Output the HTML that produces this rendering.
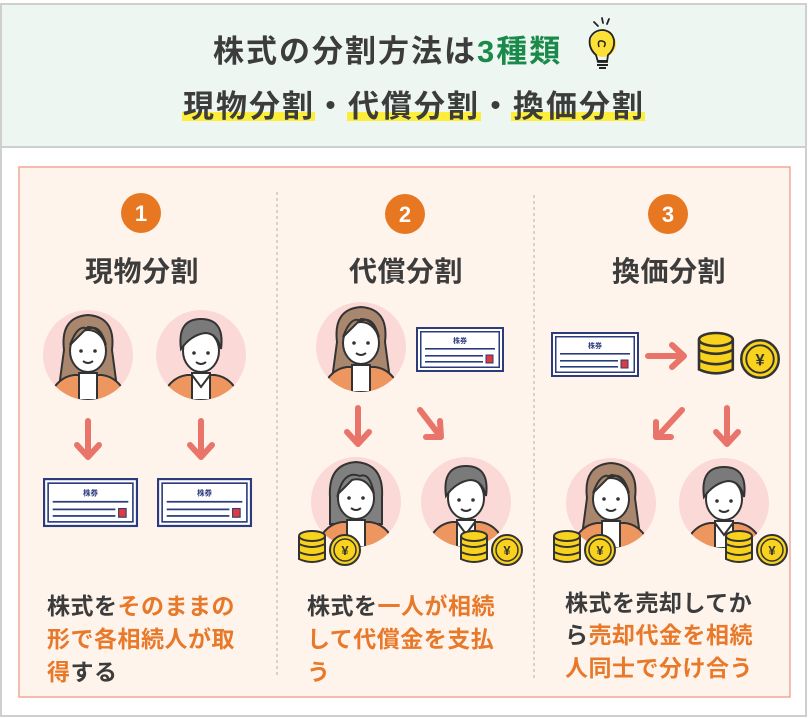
<!DOCTYPE html>
<html><head><meta charset="utf-8"><style>
body{margin:0;width:808px;height:718px;background:#fff;overflow:hidden}
svg{display:block}
text{font-family:"Liberation Sans","Noto Sans CJK JP",sans-serif;font-weight:bold}
</style></head><body>
<svg width="808" height="718" viewBox="0 0 808 718">
<defs>
<clipPath id="cc"><circle cx="0" cy="0" r="45"/></clipPath>
<g id="body">
  <path d="M-38 40 Q-30 22 -14 20 L14 20 Q30 22 38 40 L38 50 L-38 50Z" fill="#ee9660" stroke="#333" stroke-width="2"/>
  <path d="M-9 18 L-9 45 L9 45 L9 18Z" fill="#fff" stroke="#333" stroke-width="2"/>
</g>
<g id="woman">
  <circle r="45" fill="#fbd9d6"/>
  <g clip-path="url(#cc)">
    <path d="M-24 -5 Q-28 -38 0 -40 Q28 -38 24 -5 L28 25 L-28 25Z" fill="#a8876e" stroke="#333" stroke-width="2"/>
    <use href="#body"/>
    <ellipse cx="0" cy="-4" rx="18" ry="21" fill="#fff" stroke="#333" stroke-width="2"/>
    <path d="M-18 -10 Q-10 -32 0 -26 Q12 -32 18 -10 Q12 -28 0 -28Z" fill="#a8876e" stroke="#333" stroke-width="2"/>
    <circle cx="-7" cy="-4" r="1.8" fill="#333"/><circle cx="7" cy="-4" r="1.8" fill="#333"/>
    <path d="M-5 6 Q0 10 5 6" fill="none" stroke="#333" stroke-width="2"/>
  </g>
</g>
<g id="gwoman">
  <circle r="45" fill="#fbd9d6"/>
  <g clip-path="url(#cc)">
    <path d="M-26 -5 Q-28 -38 0 -40 Q28 -38 26 -5 L26 22 L-26 22Z" fill="#808080" stroke="#333" stroke-width="2"/>
    <use href="#body"/>
    <ellipse cx="0" cy="-4" rx="18" ry="21" fill="#fff" stroke="#333" stroke-width="2"/>
    <path d="M-18 -8 Q-12 -32 4 -26 Q14 -30 18 -8 Q10 -26 -4 -22Z" fill="#808080" stroke="#333" stroke-width="2"/>
    <circle cx="-7" cy="-4" r="1.8" fill="#333"/><circle cx="7" cy="-4" r="1.8" fill="#333"/>
    <path d="M-5 6 Q0 10 5 6" fill="none" stroke="#333" stroke-width="2"/>
  </g>
</g>
<g id="man">
  <circle r="45" fill="#fbd9d6"/>
  <g clip-path="url(#cc)">
    <use href="#body"/>
    <path d="M-9 20 L0 32 L9 20" fill="#fff" stroke="#333" stroke-width="2"/>
    <ellipse cx="0" cy="-4" rx="18" ry="21" fill="#fff" stroke="#333" stroke-width="2"/>
    <path d="M-20 -6 Q-24 -36 0 -36 Q24 -36 20 -6 Q16 -22 4 -22 Q-10 -20 -20 -6Z" fill="#7a7a7a" stroke="#333" stroke-width="2"/>
    <circle cx="-7" cy="-2" r="1.8" fill="#333"/><circle cx="7" cy="-2" r="1.8" fill="#333"/>
    <path d="M-5 7 Q0 11 5 7" fill="none" stroke="#333" stroke-width="2"/>
  </g>
</g>
<g id="cert">
  <rect x="0" y="0" width="88" height="45" fill="#2b3b7c"/>
  <rect x="2" y="2" width="84" height="41" fill="#fff"/>
  <rect x="4" y="4" width="80" height="37" fill="#2b3b7c"/>
  <rect x="5.5" y="5.5" width="77" height="34" fill="#fff"/>
  <text x="44" y="16" font-size="7" fill="#2b3b7c" text-anchor="middle">株券</text>
  <rect x="9" y="21" width="70" height="1.6" fill="#2b3b7c"/>
  <rect x="9" y="28" width="58" height="1.6" fill="#2b3b7c"/>
  <rect x="9" y="34" width="58" height="1.6" fill="#2b3b7c"/>
  <rect x="70" y="28" width="7" height="8" fill="#e03b3b" stroke="#2b3b7c" stroke-width="1"/>
</g>
<g id="stack">
  <path d="M0 5 L0 28 Q13 34 26 28 L26 5" fill="#f8d21c" stroke="#333" stroke-width="2"/>
  <path d="M0 13 Q13 19 26 13 M0 21 Q13 27 26 21" fill="none" stroke="#333" stroke-width="2"/>
  <ellipse cx="13" cy="5" rx="13" ry="5" fill="#f8d21c" stroke="#333" stroke-width="2"/>
</g>
<g id="yen">
  <circle r="15" fill="#f8d21c" stroke="#333" stroke-width="2"/>
  <circle r="11" fill="none" stroke="#333" stroke-width="1.5"/>
  <text x="0" y="5" font-size="13" text-anchor="middle" fill="#333">¥</text>
</g>
<path id="arr" d="M0 0 L0 34 M-11 24 L0 36 L11 24" fill="none" stroke="#e8746a" stroke-width="6" stroke-linecap="round" stroke-linejoin="round"/>
</defs>

<rect x="1" y="4" width="805" height="712" fill="#fff" stroke="#cfcfcf" stroke-width="2"/>
<rect x="2" y="5" width="803" height="142" fill="#eef6f1"/>
<line x1="2" y1="147" x2="805" y2="147" stroke="#cfcfcf" stroke-width="2"/>

<text x="213" y="62" font-size="31" letter-spacing="2" fill="#3c3c3c">株式の分割方法は<tspan fill="#1a8a4a">3種類</tspan></text>
<!-- bulb -->
<g stroke="#222" stroke-width="1.8" fill="none" stroke-linecap="round">
  <line x1="594" y1="22" x2="598" y2="26"/><line x1="602" y1="18" x2="603" y2="23"/><line x1="609" y1="19" x2="607" y2="24"/>
</g>
<circle cx="603" cy="44" r="13" fill="#fde036"/>
<path d="M596 55 Q588 48 590 38 Q594 30 603 30 Q612 31 614 40 Q615 49 608 55 L607 62 L598 62Z" fill="none" stroke="#222" stroke-width="1.8"/>
<path d="M597 61 L608 61 M597 65 L608 65 M599 68 L606 68" stroke="#222" stroke-width="2"/>
<path d="M599 47 Q597 40 602 41 Q607 42 604 47" fill="none" stroke="#222" stroke-width="1.5"/>

<rect x="182" y="112" width="133" height="9" fill="#fdee3b"/>
<rect x="347" y="112" width="134" height="9" fill="#fdee3b"/>
<rect x="511" y="112" width="134" height="9" fill="#fdee3b"/>
<text x="183" y="117" font-size="31" letter-spacing="2" fill="#3c3c3c">現物分割・代償分割・換価分割</text>

<rect x="19" y="167" width="771" height="530" fill="#fff4ec" stroke="#f1a898" stroke-width="1.5"/>
<line x1="277" y1="192" x2="277" y2="675" stroke="#bbb" stroke-width="1.2" stroke-dasharray="3,3"/>
<line x1="534" y1="195" x2="534" y2="680" stroke="#bbb" stroke-width="1.2" stroke-dasharray="3,3"/>

<g font-size="22" text-anchor="middle" fill="#fff">
<ellipse cx="141" cy="213" rx="20" ry="20" fill="#e87722"/><text x="141" y="221" font-weight="normal">1</text>
<ellipse cx="405" cy="214" rx="20" ry="20" fill="#e87722"/><text x="405" y="222" font-weight="normal">2</text>
<ellipse cx="668" cy="214" rx="20" ry="20" fill="#e87722"/><text x="668" y="222" font-weight="normal">3</text>
</g>
<g font-size="28" letter-spacing="0.5" fill="#3c3c3c">
<text x="85" y="281">現物分割</text>
<text x="349" y="281">代償分割</text>
<text x="612" y="281">換価分割</text>
</g>

<!-- col1 -->
<use href="#woman" x="88" y="355"/>
<use href="#man" x="201" y="355"/>
<use href="#arr" x="88" y="421"/>
<use href="#arr" x="201" y="421"/>
<use href="#cert" x="43" y="478" transform="translate(43 478) scale(1.08 1.09) translate(-43 -478)"/>
<use href="#cert" x="157" y="478" transform="translate(157 478) scale(1.08 1.09) translate(-157 -478)"/>

<!-- col2 -->
<use href="#woman" x="361" y="347"/>
<use href="#cert" x="416" y="327"/>
<use href="#arr" x="358" y="408"/>
<path d="M420 410 L440 436 M426 437 L441 437 L440 421" fill="none" stroke="#e8746a" stroke-width="6" stroke-linecap="round" stroke-linejoin="round"/>
<use href="#gwoman" x="356" y="502"/>
<use href="#man" x="466" y="502"/>
<use href="#stack" x="299" y="531"/>
<use href="#yen" x="345" y="550"/>
<use href="#stack" x="461" y="531"/>
<use href="#yen" x="507" y="550"/>

<!-- col3 -->
<use href="#cert" x="551" y="332"/>
<path d="M648 356 L682 356 M672 345 L684 356 L672 367" fill="none" stroke="#e8746a" stroke-width="6" stroke-linecap="round" stroke-linejoin="round"/>
<g transform="translate(699 333) scale(1.3)"><use href="#stack"/></g>
<g transform="translate(760 359) scale(1.25)"><use href="#yen"/></g>
<path d="M682 410 L658 436 M656 422 L656 437 L671 437" fill="none" stroke="#e8746a" stroke-width="6" stroke-linecap="round" stroke-linejoin="round"/>
<use href="#arr" x="727" y="408"/>
<use href="#woman" x="611" y="503"/>
<use href="#man" x="724" y="503"/>
<use href="#stack" x="554" y="531"/>
<use href="#yen" x="600" y="550"/>
<use href="#stack" x="726" y="531"/>
<use href="#yen" x="772" y="550"/>

<g font-size="23" letter-spacing="0.5" fill="#3c3c3c">
<text x="47" y="614">株式を<tspan fill="#e8792a">そのままの</tspan></text>
<text x="47" y="647" fill="#e8792a">形で各相続人が取</text>
<text x="47" y="680"><tspan fill="#e8792a">得</tspan>する</text>
<text x="307" y="614">株式を<tspan fill="#e8792a">一人が相続</tspan></text>
<text x="307" y="647" fill="#e8792a">して代償金を支払</text>
<text x="307" y="680" fill="#e8792a">う</text>
<text x="565" y="611">株式を売却してか</text>
<text x="565" y="643">ら<tspan fill="#e8792a">売却代金を相続</tspan></text>
<text x="565" y="676" fill="#e8792a">人同士で分け合う</text>
</g>
</svg>
</body></html>
